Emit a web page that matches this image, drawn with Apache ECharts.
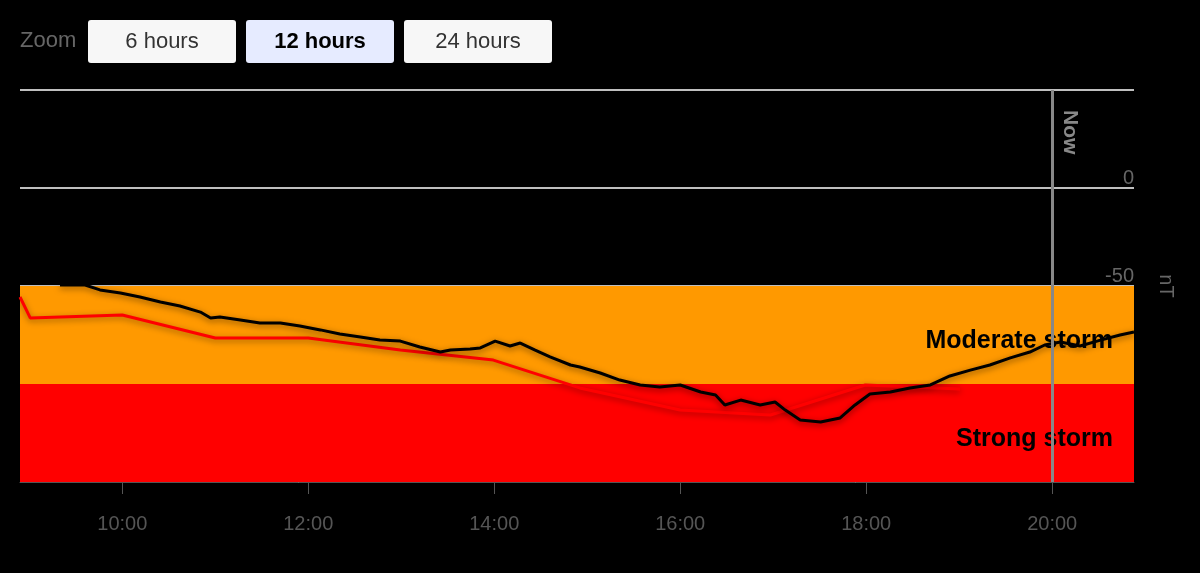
<!DOCTYPE html>
<html><head><meta charset="utf-8">
<script src="https://cdn.jsdelivr.net/npm/echarts@6/dist/echarts.min.js"></script>
<style>html,body{margin:0;background:#000}#c{width:1200px;height:573px}</style>
</head><body><div id="c"></div>
<script>
const xTicks = [10, 12, 14, 16, 18, 20];
const nowHour = 20;
const dstHours = [9.33,9.60,9.76,9.98,10.19,10.41,10.62,10.84,10.95,11.05,11.27,11.48,11.70,11.91,12.13,12.34,12.56,12.77,12.99,13.20,13.42,13.53,13.74,13.85,14.01,14.17,14.28,14.44,14.60,14.82,14.92,15.14,15.35,15.57,15.78,16.0,16.22,16.38,16.48,16.65,16.86,17.02,17.13,17.29,17.51,17.72,17.88,18.04,18.26,18.47,18.69,18.90,19.12,19.33,19.55,19.76,19.92,20.09,20.30,20.52,20.73,20.88];
const dstValues = [-49.5,-49.5,-52,-53.6,-55.6,-58.2,-60.2,-63.3,-66.3,-65.8,-67.3,-68.9,-68.9,-70.4,-72.4,-74.5,-76,-77.6,-78.1,-81.1,-83.7,-82.7,-82.1,-81.6,-78.1,-80.6,-79.1,-82.7,-86.2,-90.3,-91.3,-94.4,-98,-100.5,-101.5,-100.5,-104.1,-105.6,-110.7,-108.2,-110.7,-109.2,-113.3,-118.4,-119.4,-117.3,-110.7,-105.1,-104.1,-102,-100.5,-95.9,-92.9,-90.3,-86.7,-83.7,-80.1,-78.6,-80.6,-77.6,-75,-73.5];
const fcHours = [8.90,9.01,10,11,12,12.99,13.99,14.92,16,16.97,17.99,19.01];
const fcValues = [-55.6,-66.3,-64.8,-76.5,-76.5,-82.7,-87.8,-102,-113.3,-115.8,-100.5,-102.6];
const bands = [{name:'Moderate storm', from:-50, to:-100, color:'#ff9900'},{name:'Strong storm', from:-100, to:-150, color:'#ff0000'}];
const buttons = ['6 hours','12 hours','24 hours'];

const chart = echarts.init(document.getElementById('c'));
const pad = h => String(h).padStart(2,'0') + ':00';
const btnGraphics = [{type:'text', left:20, top:30, style:{text:'Zoom', fontSize:22, fill:'#666', fontFamily:'Liberation Sans'}}];
buttons.forEach((b,i)=>{
  const x = 88 + i*158, sel = i===1;
  btnGraphics.push({type:'rect', shape:{x:x,y:20,width:148,height:43,r:3}, style:{fill: sel?'#e6ebff':'#f7f7f7'}});
  btnGraphics.push({type:'text', x:x+74, y:42, style:{text:b, align:'center', verticalAlign:'middle', fontSize:22, fontWeight: sel?'bold':'normal', fill: sel?'#000':'#333', fontFamily:'Liberation Sans'}});
});
chart.setOption({
  backgroundColor:'#000',
  animation:false,
  textStyle:{fontFamily:'Liberation Sans'},
  grid:{left:20, right:66, top:90, bottom:91},
  xAxis:{type:'value', min:8.9, max:20.88,
    axisLine:{onZero:false, lineStyle:{color:'#555', width:1}},
    axisTick:{show:true, customValues:xTicks, length:12, lineStyle:{color:'#555'}},
    axisLabel:{customValues:xTicks, formatter:v=>pad(v), color:'#555', fontSize:20, margin:32},
    splitLine:{show:false}},
  yAxis:{type:'value', min:-150, max:50, interval:50, position:'right',
    name:'nT', nameLocation:'middle', nameRotate:-90, nameGap:22, nameTextStyle:{color:'#666', fontSize:20},
    axisLine:{show:false}, axisTick:{show:false},
    axisLabel:{inside:true, color:'#666', fontSize:20, verticalAlign:'bottom', margin:0, formatter:v=>v===50?'':String(v)},
    splitLine:{lineStyle:{color:'#fff', width:1.5}}},
  graphic: btnGraphics,
  series:[
    {type:'line', data:[], z:1,
      markArea:{silent:true, data: bands.map(b=>[{yAxis:b.from, itemStyle:{color:b.color}, label:{show:true, position:'insideRight', offset:[-16,6], formatter:b.name, color:'#000', fontWeight:'bold', fontSize:25}},{yAxis:b.to}])},
      markLine:{silent:true, symbol:'none', label:{show:false}, lineStyle:{color:'#888', width:3, type:'solid'}, data:[{xAxis:nowHour}]}},
    {type:'line', data: fcHours.map((h,i)=>[h,fcValues[i]]), showSymbol:false, z:3,
      lineStyle:{color:'#ff0000', width:3, shadowColor:'rgba(0,0,0,0.4)', shadowBlur:6, shadowOffsetY:2}},
    {type:'line', data: dstHours.map((h,i)=>[h,dstValues[i]]), showSymbol:false, z:4,
      lineStyle:{color:'#000', width:3, shadowColor:'rgba(0,0,0,0.5)', shadowBlur:6, shadowOffsetY:2}}
  ]
});
const p = chart.convertToPixel({xAxisIndex:0,yAxisIndex:0},[nowHour,50]);
btnGraphics.push({type:'text', x:p[0]+18, y:p[1]+20, rotation:-Math.PI/2, style:{text:'Now', fontSize:21, fontWeight:'bold', fill:'#888', align:'left', verticalAlign:'middle', fontFamily:'Liberation Sans'}});
chart.setOption({graphic:btnGraphics});
</script></body></html>
